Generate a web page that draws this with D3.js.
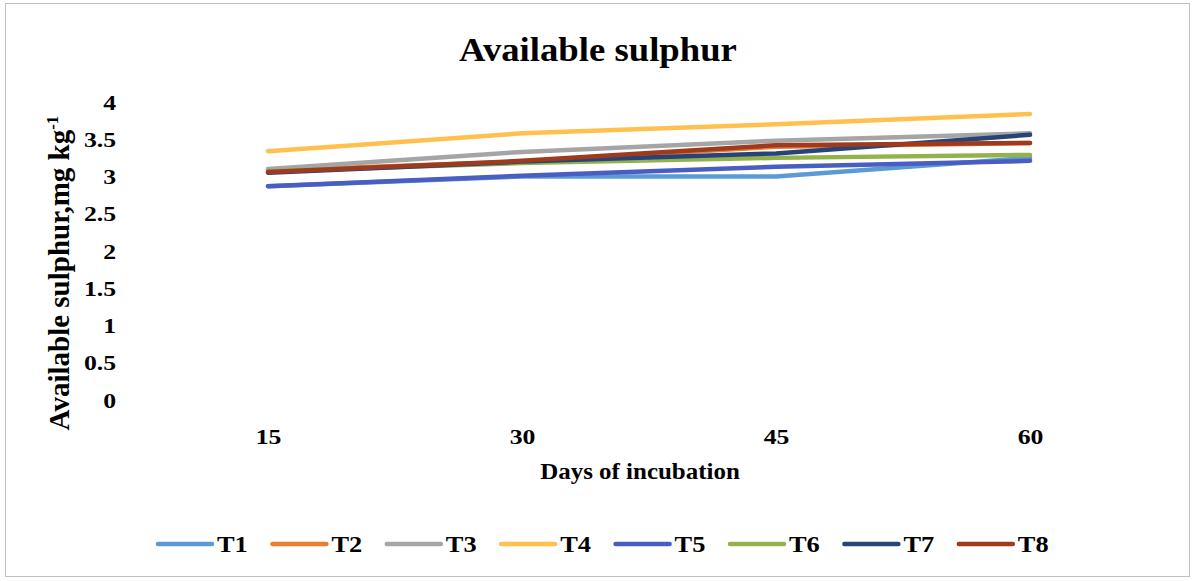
<!DOCTYPE html>
<html><head><meta charset="utf-8">
<script src="https://cdn.jsdelivr.net/npm/d3@7"></script>
<style>body{margin:0;background:#fff}svg{display:block}</style>
</head><body>
<svg id="c" width="1196" height="581"></svg>
<script>
const days = ["15","30","45","60"];
const seriesNames = ["T1","T2","T3","T4","T5","T6","T7","T8"];
const T1 = [2.87, 3.00, 3.00, 3.25];
const T2 = [3.08, 3.20, 3.40, 3.45];
const T3 = [3.10, 3.33, 3.48, 3.58];
const T4 = [3.34, 3.58, 3.70, 3.84];
const T5 = [2.87, 3.01, 3.13, 3.21];
const T6 = [3.07, 3.18, 3.25, 3.29];
const T7 = [3.05, 3.20, 3.31, 3.56];
const T8 = [3.06, 3.21, 3.42, 3.45];
const yTicks = [0,0.5,1,1.5,2,2.5,3,3.5,4];
const colors = ["#5B9BD5","#ED7D31","#A5A5A5","#FFC04D","#4A5EC2","#93B24C","#264478","#9E3A1E"];
const values = [T1,T2,T3,T4,T5,T6,T7,T8];

const svg = d3.select("#c");
const font = "'Liberation Serif','Times New Roman',serif";
svg.append("rect").attr("x",5.5).attr("y",3.5).attr("width",1184).attr("height",573)
  .attr("fill","#fff").attr("stroke","#bfbfbf").attr("stroke-width",1);

const x = d3.scalePoint().domain(days).range([141,1157]).padding(0.5);
const y = d3.scaleLinear().domain([0,4]).range([400,102]);

svg.append("text").attr("transform","translate(598,61) scale(1.08,1)").attr("text-anchor","middle")
  .attr("font-family",font).attr("font-weight","bold").attr("font-size",34).text("Available sulphur");

// y axis (labels only)
const ya = svg.append("g").attr("transform","translate(122,0)")
  .call(d3.axisLeft(y).tickValues(yTicks).tickSize(0).tickPadding(5).tickFormat(d=>String(d)));
ya.select(".domain").remove();
ya.selectAll("text").attr("font-family",font).attr("font-weight","bold").attr("font-size",22).attr("fill","#000")
  .attr("transform","scale(1.17,1)");

const xa = svg.append("g").attr("transform","translate(0,427)")
  .call(d3.axisBottom(x).tickSize(0).tickPadding(0));
xa.select(".domain").remove();
xa.selectAll("text").attr("font-family",font).attr("font-weight","bold").attr("font-size",22).attr("fill","#000")
  .attr("dy","0.75em").attr("transform","scale(1.17,1)");

svg.append("text").attr("transform","translate(640,479) scale(1.04,1)").attr("text-anchor","middle")
  .attr("font-family",font).attr("font-weight","bold").attr("font-size",24).text("Days of incubation");

const yt = svg.append("text").attr("transform","translate(69,273) rotate(-90)").attr("text-anchor","middle")
  .attr("font-family",font).attr("font-weight","bold").attr("font-size",29);
yt.append("tspan").text("Available sulphur,mg kg");
yt.append("tspan").attr("dy",-11).attr("font-size",17).text("-1");

const line = d3.line().x((d,i)=>x(days[i])).y(d=>y(d));
values.forEach((v,i)=>{
  svg.append("path").datum(v).attr("d",line).attr("fill","none")
    .attr("stroke",colors[i]).attr("stroke-width",4.5).attr("stroke-linecap","round");
});

const lg = svg.append("g");
seriesNames.forEach((n,i)=>{
  const gx = 158 + i*114.4;
  lg.append("line").attr("x1",gx).attr("x2",gx+54).attr("y1",544).attr("y2",544)
    .attr("stroke",colors[i]).attr("stroke-width",4.5).attr("stroke-linecap","round");
  lg.append("text").attr("transform",`translate(${gx+59},552) scale(1.1,1)`).attr("font-family",font)
    .attr("font-weight","bold").attr("font-size",24).text(n);
});
</script>
</body></html>
